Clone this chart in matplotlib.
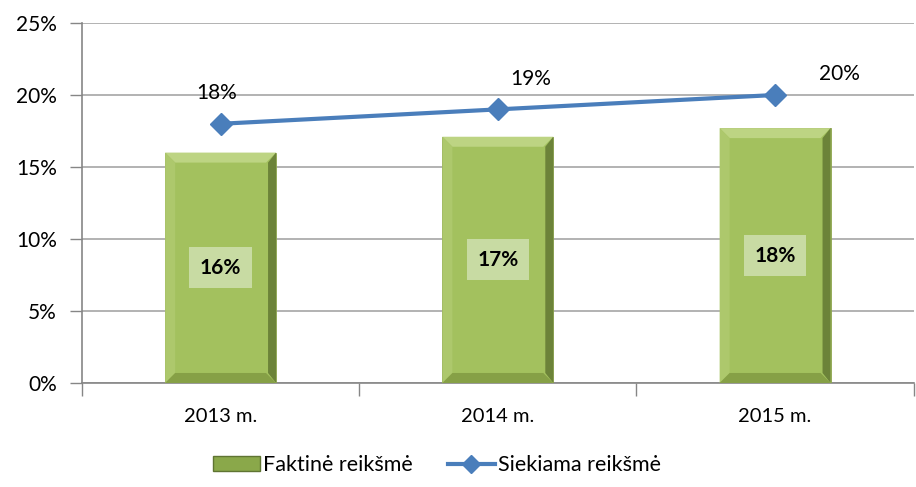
import matplotlib
matplotlib.use('Agg')
import matplotlib.pyplot as plt
from matplotlib.patches import Polygon
from matplotlib.lines import Line2D
import matplotlib.patches as mpatches

plt.rcParams['font.family'] = ['Lato', 'DejaVu Sans']

# data
years = ['2013 m.', '2014 m.', '2015 m.']
actual = [16.0, 17.1, 17.7]          # Faktinė reikšmė
actual_labels = ['16%', '17%', '18%']
target = [18, 19, 20]                # Siekiama reikšmė
target_labels = ['18%', '19%', '20%']

fig = plt.figure(figsize=(9.16, 4.87), dpi=100)
ax = fig.add_axes([0.0895, 0.2136, 0.908, 0.7392])

x = list(range(len(years)))
face = '#a3c15e'
bars = ax.bar(x, actual, width=0.4, color=face, edgecolor='#8ca44e', linewidth=0.6, zorder=2)
ax.plot(x, target, color='#4a7ebb', linewidth=3, marker='D', markersize=11,
        markeredgecolor='#4a7ebb', zorder=4)

ax.set_xlim(-0.5, 2.5)
ax.set_ylim(0, 25)
ax.set_yticks(range(0, 26, 5))
ax.set_yticklabels([f'{v}%' for v in range(0, 26, 5)])
ax.set_xticks(x)
ax.set_xticklabels(years)
ax.set_xticks([-0.5, 0.5, 1.5, 2.5], minor=True)
ax.tick_params(axis='x', which='major', length=0, pad=18, labelsize=14.5, colors='#000000')
ax.tick_params(axis='x', which='minor', length=9, width=1, color='#868686', direction='out')
ax.tick_params(axis='y', length=9, width=1, color='#868686', pad=9, labelsize=15)
ax.grid(axis='y', color='#a6a6a6', linewidth=1.2, zorder=0)
ax.set_axisbelow(True)
for s in ['top', 'right']:
    ax.spines[s].set_visible(False)
for s in ['left', 'bottom']:
    ax.spines[s].set_color('#868686')
    ax.spines[s].set_linewidth(1.2)
    ax.spines[s].set_zorder(1)

# bevel effect, built from each bar's geometry
fig.canvas.draw()
inv = ax.transData.inverted()
p0 = inv.transform((0, 0))
p1 = inv.transform((10, 10))
bx, by = p1[0] - p0[0], p1[1] - p0[1]
for b in bars:
    x0, w, h = b.get_x(), b.get_width(), b.get_height()
    x1 = x0 + w
    pieces = [
        ([(x0, h), (x1, h), (x1 - bx, h - by), (x0 + bx, h - by)], '#bdd483'),
        ([(x0, 0), (x0, h), (x0 + bx, h - by), (x0 + bx, by)], '#adc86c'),
        ([(x1, 0), (x1, h), (x1 - bx * 0.8, h - by), (x1 - bx * 0.8, by)], '#6c8339'),
        ([(x0, 0), (x1, 0), (x1 - bx, by), (x0 + bx, by)], '#86a046'),
    ]
    for pts, c in pieces:
        ax.add_patch(Polygon(pts, closed=True, facecolor=c, edgecolor='none', zorder=3))

for i, v in enumerate(actual):
    ax.text(x[i], v / 2, actual_labels[i], ha='center', va='center', fontsize=15,
            fontweight='bold', zorder=5,
            bbox=dict(boxstyle='square,pad=0.5', facecolor='#c8dba3', edgecolor='none'))

offsets = [(-3, 22), (24, 22), (46, 15)]
for i, v in enumerate(target):
    ax.annotate(target_labels[i], (x[i], v), xytext=offsets[i], textcoords='offset points',
                ha='center', va='center', fontsize=15, zorder=5)

handles = [mpatches.Rectangle((0, 0), 1, 1, facecolor='#8aa84a', edgecolor='#5f7432'),
           Line2D([], [], color='#4a7ebb', linewidth=3, marker='D', markersize=9)]
fig.legend(handles, ['Faktinė reikšmė', 'Siekiama reikšmė'], loc='center',
           bbox_to_anchor=(0.477, 0.045), ncol=2, frameon=False, fontsize=15.5,
           handlelength=2.2, handletextpad=0.15, columnspacing=1.6)

fig.savefig('out.png', dpi=100)
